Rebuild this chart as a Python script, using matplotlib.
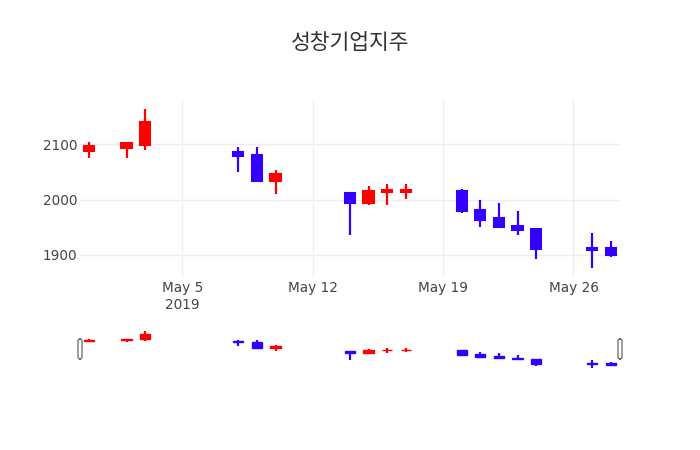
import matplotlib
matplotlib.use("Agg")
import matplotlib.pyplot as plt
import matplotlib.dates as mdates
import pandas as pd
from matplotlib.patches import FancyBboxPatch

plt.rcParams['font.family'] = ['DejaVu Sans', 'Noto Sans CJK KR']

title = "성창기업지주"
dates = ["2019-04-30", "2019-05-02", "2019-05-03", "2019-05-08", "2019-05-09", "2019-05-10",
         "2019-05-14", "2019-05-15", "2019-05-16", "2019-05-17", "2019-05-20", "2019-05-21",
         "2019-05-22", "2019-05-23", "2019-05-24", "2019-05-27", "2019-05-28"]
open_ = [2088, 2093, 2098, 2086, 2081, 2034, 2011, 1994, 2014, 2014, 2016, 1982, 1967, 1952, 1947, 1912, 1912]
high = [2104, 2102, 2164, 2095, 2095, 2054, 2011, 2024, 2029, 2029, 2019, 2000, 1994, 1980, 1947, 1940, 1925]
low = [2075, 2075, 2090, 2050, 2034, 2010, 1936, 1991, 1991, 2001, 1976, 1951, 1950, 1936, 1892, 1876, 1897]
close = [2096, 2102, 2141, 2079, 2034, 2046, 1994, 2016, 2018, 2018, 1979, 1964, 1950, 1945, 1910, 1909, 1900]

yticks = [1900, 2000, 2100]
xtick_dates = ["2019-05-05", "2019-05-12", "2019-05-19", "2019-05-26"]
xtick_labels = ["May 5\n2019", "May 12", "May 19", "May 26"]

INC = "#ff0000"
DEC = "#3300ff"

x = mdates.date2num(pd.to_datetime(dates))
xt = mdates.date2num(pd.to_datetime(xtick_dates))
xmin, xmax = x[0] - 0.5, x[-1] + 0.5
ypad = (max(high) - min(low)) * 0.055
ymin, ymax = min(low) - ypad, max(high) + ypad

fig = plt.figure(figsize=(7, 4.5), dpi=100)
ax = fig.add_axes([80/700, 1 - 277/450, 540/700, 177/450])
rs = fig.add_axes([80/700, 1 - 370/450, 540/700, 41/450])


def draw(a, lw_wick, lw_body):
    for xi, o, h, l, c in zip(x, open_, high, low, close):
        col = INC if c > o else DEC
        a.vlines(xi, l, h, color=col, linewidth=lw_wick, zorder=3)
        a.bar(xi, abs(c - o), bottom=min(o, c), width=0.55, color=col,
              edgecolor=col, linewidth=lw_body, zorder=4)


draw(ax, 1.6, 1.5)
draw(rs, 1.6, 1.0)

for a in (ax, rs):
    a.set_xlim(xmin, xmax)
    a.set_ylim(ymin, ymax)
    for s in a.spines.values():
        s.set_visible(False)

ax.set_yticks(yticks)
ax.set_yticklabels([str(v) for v in yticks], fontsize=9.8, color="#444444")
ax.set_xticks(xt)
ax.set_xticklabels(xtick_labels, fontsize=9.8, color="#444444", linespacing=1.3)
ax.tick_params(length=0)
ax.tick_params(axis='x', pad=3)
ax.tick_params(axis='y', pad=2)
ax.grid(True, color="#eeeeee", linewidth=1)
ax.set_axisbelow(True)

rs.set_xticks([])
rs.set_yticks([])

# range slider handles
for hx in (80, 620):
    p = FancyBboxPatch(((hx - 2) / 700, 1 - 359/450), 4 / 700, 20 / 450,
                       boxstyle="round,pad=0,rounding_size=0.004",
                       transform=fig.transFigure, facecolor="white",
                       edgecolor="#666666", linewidth=0.9, zorder=10)
    fig.patches.append(p)

fig.text(0.5, 1 - 43/450, title, ha="center", va="center", fontsize=15.5,
         color="#333333", family=['Noto Sans CJK KR', 'DejaVu Sans'])

fig.savefig("out.png", dpi=100)
